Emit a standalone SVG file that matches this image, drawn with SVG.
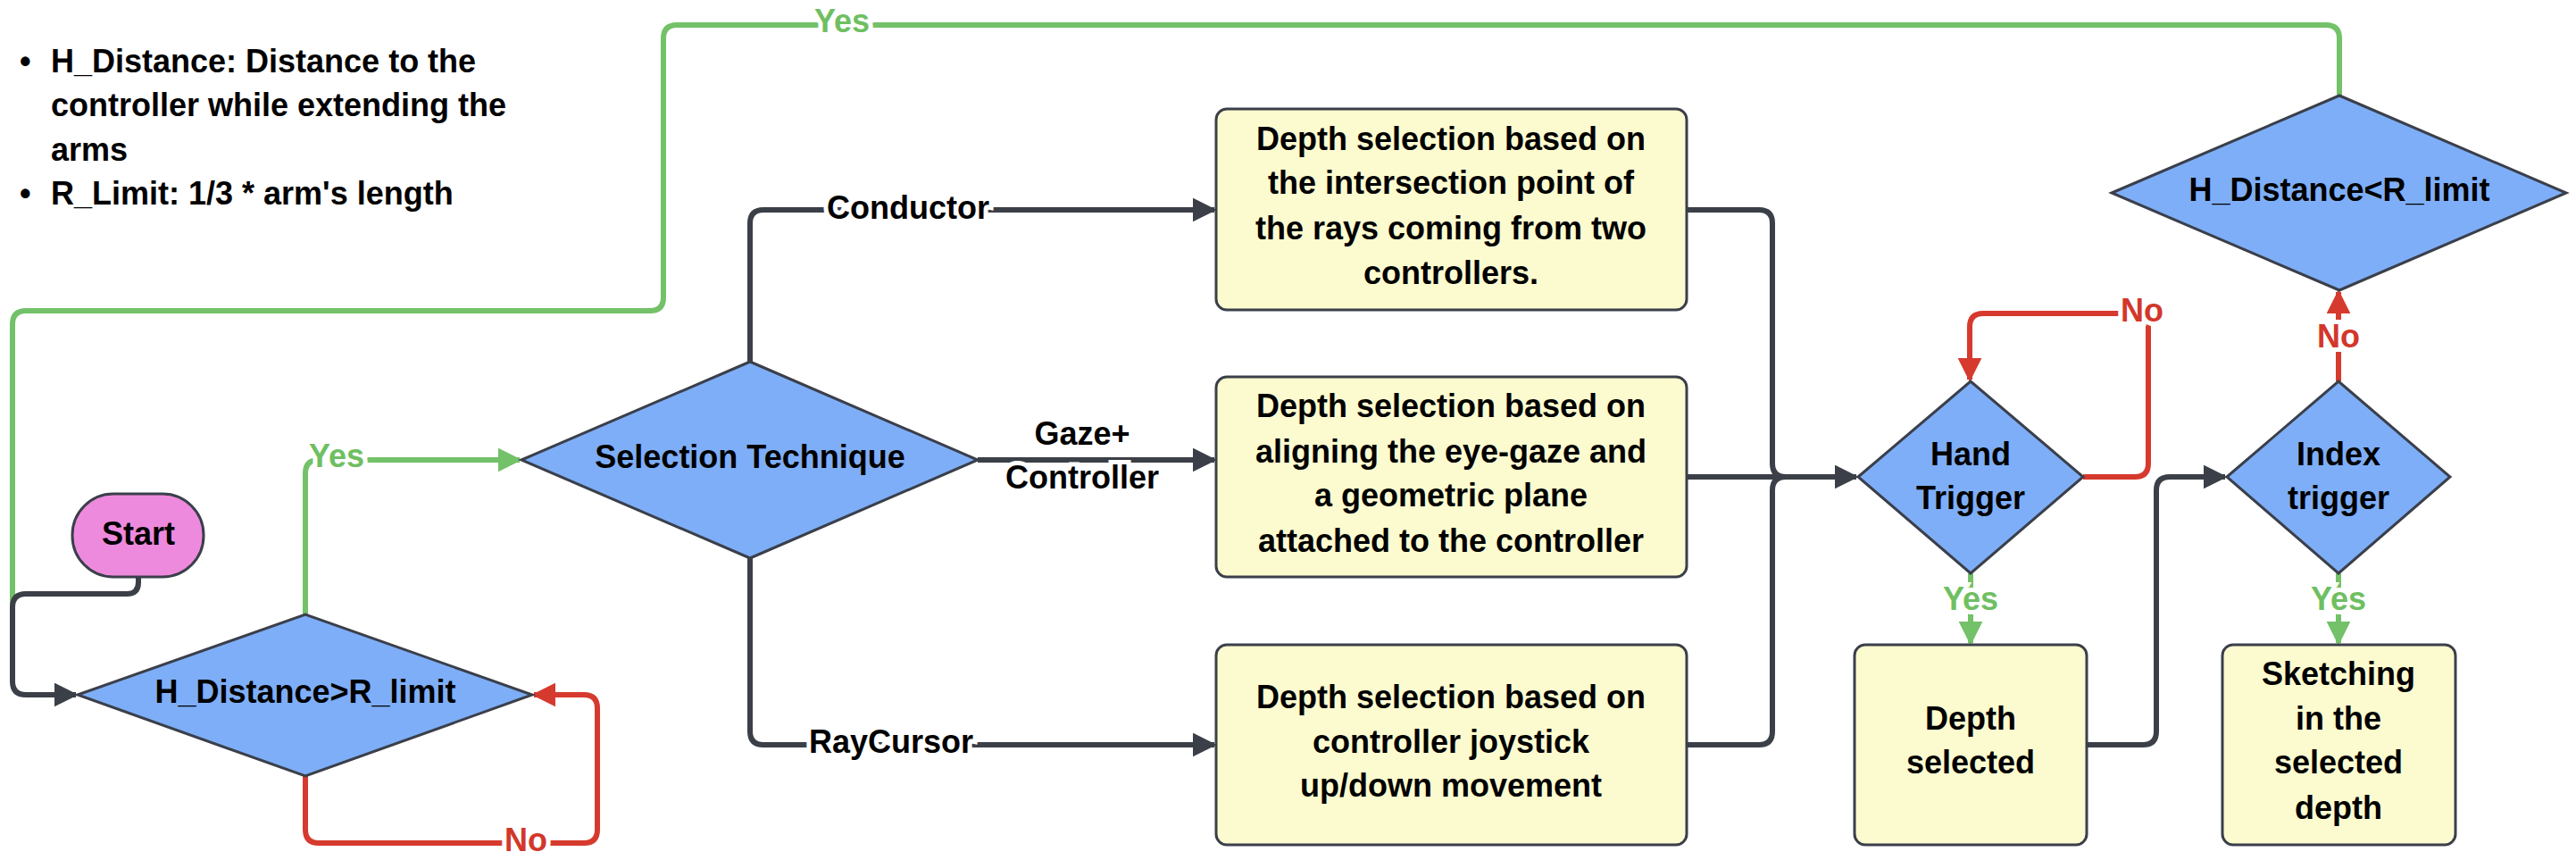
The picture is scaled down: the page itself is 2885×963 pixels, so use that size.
<svg xmlns="http://www.w3.org/2000/svg" width="2885" height="963" viewBox="0 0 2885 963">
<defs>
<style>
text{font-family:"Liberation Sans",Arial,sans-serif;font-weight:bold;font-size:36px;fill:#000;text-anchor:middle;dominant-baseline:central}
.lbl{paint-order:stroke;stroke:#fff;stroke-width:10px}
.g{fill:#6fbf62}.r{fill:#d3372b}
.dia{fill:#7eaef7;stroke:#3a3f4a;stroke-width:3}
.box{fill:#fcfbcf;stroke:#3a3f4a;stroke-width:3}
.c{fill:none;stroke:#3b3f47;stroke-width:6}
.cg{fill:none;stroke:#73c168;stroke-width:6}
.cr{fill:none;stroke:#d63a2e;stroke-width:6}
</style>
<marker id="ad" viewBox="0 0 10 10" refX="9" refY="5" markerWidth="4.5" markerHeight="4.5" orient="auto" markerUnits="strokeWidth"><path d="M0,0L10,5L0,10z" fill="#3b3f47"/></marker>
<marker id="ag" viewBox="0 0 10 10" refX="9" refY="5" markerWidth="4.5" markerHeight="4.5" orient="auto" markerUnits="strokeWidth"><path d="M0,0L10,5L0,10z" fill="#73c168"/></marker>
<marker id="ar" viewBox="0 0 10 10" refX="9" refY="5" markerWidth="4.5" markerHeight="4.5" orient="auto" markerUnits="strokeWidth"><path d="M0,0L10,5L0,10z" fill="#d63a2e"/></marker>
</defs>
<rect width="2885" height="963" fill="#fff"/>
<g id="legend" style="text-anchor:start">
<text x="22" y="68" style="text-anchor:start">•</text>
<text x="57" y="68" style="text-anchor:start">H_Distance: Distance to the</text>
<text x="57" y="117" style="text-anchor:start">controller while extending the</text>
<text x="57" y="167" style="text-anchor:start">arms</text>
<text x="22" y="216" style="text-anchor:start">•</text>
<text x="57" y="216" style="text-anchor:start">R_Limit: 1/3 * arm's length</text>
</g>
<g id="connectors">
<path class="cg" d="M2620,107 V43 Q2620,28 2605,28 H758 Q743,28 743,43 V333 Q743,348 728,348 H29 Q14,348 14,363 V690"/>
<path class="c" d="M155,646 V652 Q155,665 142,665 H29 Q14,665 14,680 V763 Q14,778 29,778 H85" marker-end="url(#ad)"/>
<path class="cr" d="M342,869 V929 Q342,944 357,944 H654 Q669,944 669,929 V793 Q669,778 654,778 H598" marker-end="url(#ar)"/>
<path class="cg" d="M342,688 V530 Q342,515 357,515 H582" marker-end="url(#ag)"/>
<path class="c" d="M840,405 V250 Q840,235 855,235 H1360" marker-end="url(#ad)"/>
<path class="c" d="M1095,515 H1360" marker-end="url(#ad)"/>
<path class="c" d="M840,625 V819 Q840,834 855,834 H1360" marker-end="url(#ad)"/>
<path class="c" d="M1889,235 H1970 Q1985,235 1985,250 V519 Q1985,534 2000,534"/>
<path class="c" d="M1889,834 H1970 Q1985,834 1985,819 V549 Q1985,534 2000,534"/>
<path class="c" d="M1889,534 H2079" marker-end="url(#ad)"/>
<path class="cr" d="M2333,534 H2391 Q2406,534 2406,519 V366 Q2406,351 2391,351 H2221 Q2206,351 2206,366 V425" marker-end="url(#ar)"/>
<path class="cg" d="M2207,642 V720" marker-end="url(#ag)" stroke-width="4"/>
<path class="c" d="M2337,834 H2400 Q2415,834 2415,819 V549 Q2415,534 2430,534 H2492" marker-end="url(#ad)"/>
<path class="cr" d="M2619,427 V327" marker-end="url(#ar)"/>
<path class="cg" d="M2619,642 V720" marker-end="url(#ag)" stroke-width="4"/>
<text class="lbl g" x="943" y="23">Yes</text>
<text class="lbl g" x="377" y="510">Yes</text>
<text class="lbl r" x="589" y="940">No</text>
<text class="lbl" x="1017" y="232">Conductor</text>
<text class="lbl" x="1212" y="485">Gaze+</text>
<text class="lbl" x="1212" y="534">Controller</text>
<text class="lbl" x="998" y="830">RayCursor</text>
<text class="lbl r" x="2399" y="347">No</text>
<text class="lbl r" x="2619" y="376">No</text>
<text class="lbl g" x="2207" y="670">Yes</text>
<text class="lbl g" x="2619" y="670">Yes</text>
</g>
<g id="start"><rect x="81" y="553" width="147" height="93" rx="46" fill="#ee8add" stroke="#3a3f4a" stroke-width="3"/><text x="155" y="597">Start</text></g>
<g id="hdist_gt"><polygon class="dia" points="87,778 342,688 596,778 342,869"/><text x="342" y="774">H_Distance&gt;R_limit</text></g>
<g id="selection"><polygon class="dia" points="584,515 840,405 1095,515 840,625"/><text x="840" y="511">Selection Technique</text></g>
<g id="box1"><rect class="box" x="1362" y="122" width="527" height="225" rx="12"/><text x="1625" y="155">Depth selection based on</text><text x="1625" y="204">the intersection point of</text><text x="1625" y="255">the rays coming from two</text><text x="1625" y="305">controllers.</text></g>
<g id="box2"><rect class="box" x="1362" y="422" width="527" height="224" rx="12"/><text x="1625" y="454">Depth selection based on</text><text x="1625" y="505">aligning the eye-gaze and</text><text x="1625" y="554">a geometric plane</text><text x="1625" y="605">attached to the controller</text></g>
<g id="box3"><rect class="box" x="1362" y="722" width="527" height="224" rx="12"/><text x="1625" y="780">Depth selection based on</text><text x="1625" y="830">controller joystick</text><text x="1625" y="879">up/down movement</text></g>
<g id="hand"><polygon class="dia" points="2081,534 2207,427 2333,534 2207,642"/><text x="2207" y="508">Hand</text><text x="2207" y="557">Trigger</text></g>
<g id="depthsel"><rect class="box" x="2077" y="722" width="260" height="224" rx="12"/><text x="2207" y="804">Depth</text><text x="2207" y="853">selected</text></g>
<g id="index"><polygon class="dia" points="2494,534 2619,427 2744,534 2619,642"/><text x="2619" y="508">Index</text><text x="2619" y="557">trigger</text></g>
<g id="hdist_lt"><polygon class="dia" points="2365,216 2620,107 2874,216 2620,325"/><text x="2620" y="212">H_Distance&lt;R_limit</text></g>
<g id="sketch"><rect class="box" x="2489" y="722" width="261" height="224" rx="12"/><text x="2619" y="754">Sketching</text><text x="2619" y="804">in the</text><text x="2619" y="853">selected</text><text x="2619" y="904">depth</text></g>
</svg>
